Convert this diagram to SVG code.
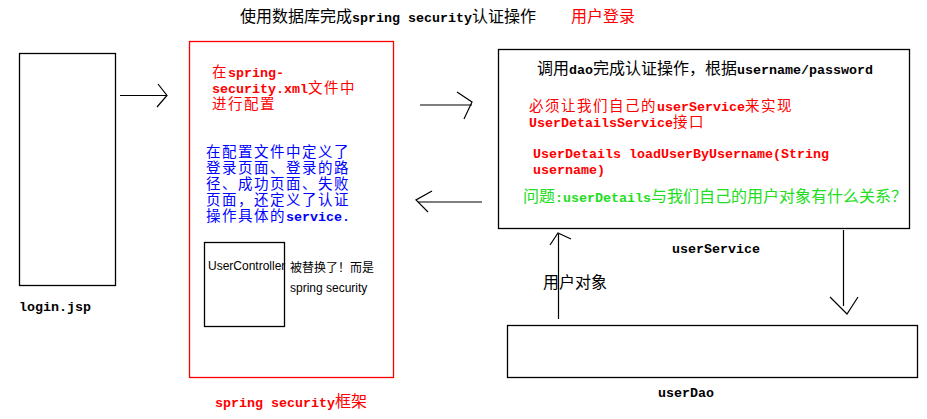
<svg xmlns="http://www.w3.org/2000/svg" width="927" height="419" viewBox="0 0 927 419">
<style>
.box{fill:none;stroke:#000;stroke-width:1.3}
.frame{fill:none;stroke:#ff0000;stroke-width:1.3}
.ln{fill:none;stroke:#000;stroke-width:1.2}
.t{font-family:"Noto Sans CJK SC",sans-serif;font-size:16px}
.tt{font-family:"Noto Sans CJK SC",sans-serif;font-size:14.5px;letter-spacing:1.5px}
.m{font-family:"Liberation Mono",monospace;font-size:13.33px;font-weight:bold;letter-spacing:0}
.s{font-family:"Liberation Sans","Noto Sans CJK SC",sans-serif;font-size:12px}
.red{fill:#ff0000}
.blue{fill:#0000ff}
.green{fill:#22dd22}
</style>
<rect width="927" height="419" fill="#fff"/>
<g id="title">
<text x="240" y="22" class="t">使用数据库完成<tspan class="m">spring security</tspan>认证操作</text>
<text x="571" y="22" class="t red">用户登录</text>
</g>
<g id="login">
<rect x="19.5" y="53.5" width="96" height="232" class="box"/>
<text x="19" y="311" class="m">login.jsp</text>
</g>
<g id="framework">
<rect x="189.5" y="41.5" width="204" height="336" class="frame"/>
<text class="tt red"><tspan x="212" y="77">在<tspan class="m">spring-</tspan></tspan><tspan x="212" y="93"><tspan class="m">security.xml</tspan>文件中</tspan><tspan x="212" y="109">进行配置</tspan></text>
<text class="tt blue"><tspan x="206" y="157">在配置文件中定义了</tspan><tspan x="206" y="173">登录页面、登录的路</tspan><tspan x="206" y="189">径、成功页面、失败</tspan><tspan x="206" y="205">页面，还定义了认证</tspan><tspan x="206" y="221">操作具体的<tspan class="m">service.</tspan></tspan></text>
<text x="215" y="407" class="t red"><tspan class="m">spring security</tspan>框架</text>
</g>
<g id="userController">
<rect x="204.5" y="242.5" width="80" height="84" class="box"/>
<text x="208" y="270" class="s" font-size="11">UserController</text>
</g>
<g id="note">
<text x="290" y="272" class="s" font-size="11">被替换了！而是</text>
<text x="290" y="292" class="s">spring security</text>
</g>
<g id="userService">
<rect x="498.5" y="49.5" width="411" height="179" class="box"/>
<text x="537" y="74" class="t">调用<tspan class="m">dao</tspan>完成认证操作，根据<tspan class="m">username/password</tspan></text>
<text class="tt red"><tspan x="529" y="111">必须让我们自己的<tspan class="m">userService</tspan>来实现</tspan><tspan x="529" y="127"><tspan class="m">UserDetailsService</tspan>接口</tspan></text>
<text class="m red"><tspan x="533" y="158">UserDetails loadUserByUsername(String</tspan><tspan x="533" y="174">username)</tspan></text>
<text x="523" y="202" class="t green">问题<tspan class="m">:userDetails</tspan>与我们自己的用户对象有什么关系？</text>
<text x="672" y="253" class="m">userService</text>
</g>
<g id="userDao">
<rect x="507.5" y="325.5" width="410" height="52" class="box"/>
<text x="658" y="397" class="m">userDao</text>
</g>
<g id="connectors">
<line x1="120" y1="95.5" x2="167" y2="95.5" class="ln"/>
<polyline points="158,84 167,95.5 157,107" class="ln"/>
<line x1="420" y1="105" x2="472" y2="105" class="ln"/>
<polyline points="457,92 472,102 464,119" class="ln"/>
<line x1="418" y1="202" x2="482" y2="202" class="ln"/>
<polyline points="432,191 416,200 428,212" class="ln"/>
<line x1="558.5" y1="234" x2="558.5" y2="319" class="ln"/>
<polyline points="550,245 558,233 571,239" class="ln"/>
<text x="543" y="288" class="t">用户对象</text>
<line x1="843.5" y1="230" x2="843.5" y2="306" class="ln"/>
<polyline points="830,297 847,314 858,297" class="ln"/>
</g>
</svg>
